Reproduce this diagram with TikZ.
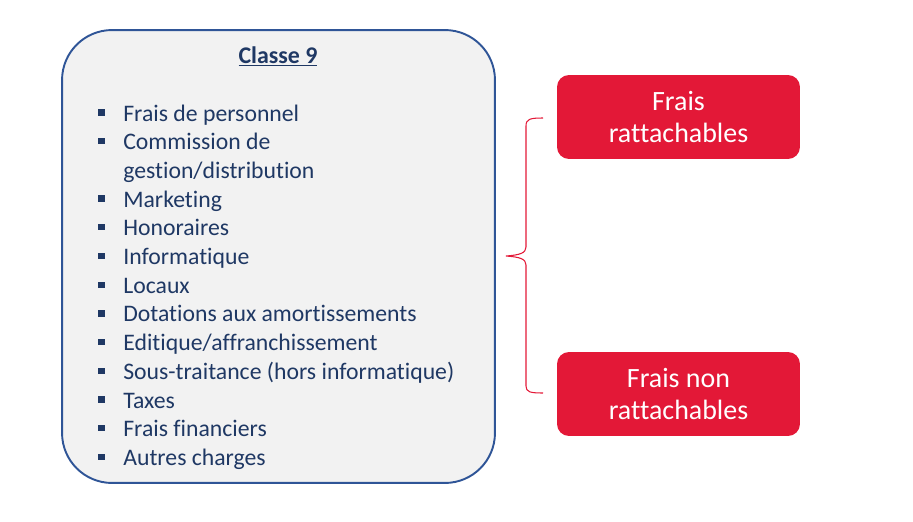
\documentclass[tikz,border=0pt]{standalone}
\usepackage{fontspec}
\setmainfont{Carlito}[Ligatures=CommonOff]
\usetikzlibrary{positioning, calc}
\definecolor{navy}{HTML}{1F3864}
\definecolor{frame}{HTML}{2F5597}
\definecolor{panelgray}{HTML}{F2F2F2}
\definecolor{crimson}{HTML}{E31837}

\begin{document}
\begin{tikzpicture}[
  x=0.02cm, y=-0.02cm,
  % --- Style definitions ---
  panel/.style={draw=frame, fill=panelgray, line width=1.1pt, rounded corners=1cm,
                minimum width=8.66cm, minimum height=9.06cm},
  title/.style={font=\fontsize{13.6}{16.3}\selectfont\bfseries, text=navy, inner sep=0pt},
  item/.style={font=\fontsize{13.5}{16.3}\selectfont, text=navy, inner sep=0pt},
  bul/.style={fill=navy, minimum size=3.6pt, inner sep=0pt},
  fraisbox/.style={fill=crimson, rounded corners=0.24cm, minimum width=4.86cm,
                   minimum height=1.68cm, align=center, text=white,
                   font=\fontsize{15.9}{18.7}\selectfont},
  brc/.style={draw=crimson, line width=0.6pt},
]
\useasboundingbox (0,0) rectangle (913,521);

% ===== Left panel =====
\node[panel] (cl9) at (278.5,256.5) {};
\node[title, anchor=base] (cl9t) at (278,63) {\underline{Classe 9}};

% --- List lines ---
\foreach \txt [count=\i from 0] in {Frais de personnel, Commission de,
    {gestion/distribution}, Marketing, Honoraires, Informatique, Locaux,
    Dotations aux amortissements, {Editique/affranchissement},
    Sous-traitance (hors informatique), Taxes, Frais financiers, Autres charges}
  \node[item, anchor=base west] (l\i) at (123,121+\i*28.7) {\txt};

% --- Bullets (no bullet on the wrapped line) ---
\foreach \i in {0,1,3,4,5,6,7,8,9,10,11,12}
  \node[bul] (b\i) at (101.5,112.5+\i*28.7) {};

% ===== Right boxes =====
\node[fraisbox] (fr1) at (678.5,117) {Frais\\rattachables};
\node[fraisbox] (fr2) at (678.5,394) {Frais non\\rattachables};

% ===== Brace =====
\coordinate (bt) at (543,118);
\coordinate (bb) at (543,393);
\coordinate (tip) at (506,256);
\draw[brc] (bt) .. controls (530,118) and (526,119) .. (526,126) -- (526,247)
  .. controls (526,253) and (520,255) .. (tip)
  .. controls (520,257) and (526,259) .. (526,265) -- (526,386)
  .. controls (526,392) and (530,393) .. (bb);

\end{tikzpicture}
\end{document}
